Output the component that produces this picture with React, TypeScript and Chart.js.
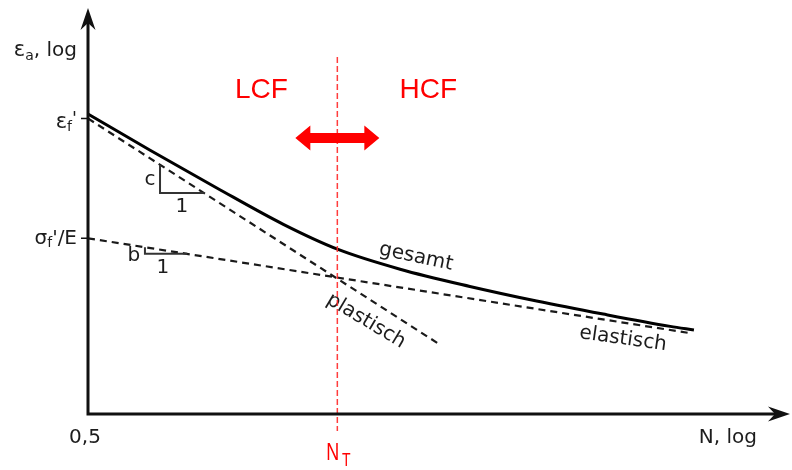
import React, { useEffect, useRef } from "react";
import { Chart, registerables } from "chart.js";

Chart.register(...registerables);

// Total strain amplitude (gesamt) over number of cycles N
const totalN = [0.5, 2.1, 10, 47, 168, 710, 3600, 17000, 80000, 380000, 660000];
const totalStrain = [0.32, 0.147, 0.065, 0.0297, 0.0173, 0.0113, 0.0078, 0.0057, 0.0043, 0.0033, 0.00305];

// Plastic part (Coffin-Manson) – straight line in log-log
const plasticN = [0.5, 1700];
const plasticStrain = [0.29, 0.0023];

// Elastic part (Basquin) – straight line in log-log
const elasticN = [0.5, 600000];
const elasticStrain = [0.022, 0.002855];

// Transition life N_T
const transitionN = 165;

// Axis ranges
const rangeN = [0.5, 5e6];
const rangeStrain = [5e-4, 3];

// Slope triangles (N span along each line)
const cTriangleN = [2.67, 7.4];
const bTriangleN = [1.88, 5.0];

const INK = "#1c1c1c";
const RED = "#ff0000";
const SANS = '"DejaVu Sans", Verdana, sans-serif';
const ARIAL = '"Liberation Sans", Arial, sans-serif';

type Run = { t: string; size: number; dy: number };

function runsWidth(ctx: CanvasRenderingContext2D, runs: Run[]) {
  let w = 0;
  for (const r of runs) {
    ctx.font = `${r.size}px ${SANS}`;
    w += ctx.measureText(r.t).width;
  }
  return w;
}

function drawRuns(ctx: CanvasRenderingContext2D, runs: Run[], right: number, baseline: number) {
  let x = right - runsWidth(ctx, runs);
  ctx.textAlign = "left";
  ctx.textBaseline = "alphabetic";
  for (const r of runs) {
    ctx.font = `${r.size}px ${SANS}`;
    ctx.fillText(r.t, x, baseline + r.dy);
    x += ctx.measureText(r.t).width;
  }
}

function arrowHead(ctx: CanvasRenderingContext2D, tx: number, ty: number, dx: number, dy: number) {
  const len = 22, half = 7.5, notch = 15;
  const px = -dy, py = dx;
  ctx.beginPath();
  ctx.moveTo(tx, ty);
  ctx.lineTo(tx - dx * len + px * half, ty - dy * len + py * half);
  ctx.lineTo(tx - dx * notch, ty - dy * notch);
  ctx.lineTo(tx - dx * len - px * half, ty - dy * len - py * half);
  ctx.closePath();
  ctx.fill();
}

function rotatedText(ctx: CanvasRenderingContext2D, text: string, cx: number, cy: number, deg: number, size = 20) {
  ctx.save();
  ctx.translate(cx, cy);
  ctx.rotate((deg * Math.PI) / 180);
  ctx.font = `${size}px ${SANS}`;
  ctx.textAlign = "center";
  ctx.textBaseline = "middle";
  ctx.fillText(text, 0, 0);
  ctx.restore();
}

const diagramPlugin = {
  id: "strainLifeDiagram",
  afterDraw(chart: any) {
    const ctx: CanvasRenderingContext2D = chart.ctx;
    const xs = chart.scales.x;
    const ys = chart.scales.y;
    const area = chart.chartArea;
    const ox = area.left;
    const oy = area.bottom;

    ctx.save();

    // Slope triangles on plastic and elastic lines
    const lineY = (nA: number, eA: number, nB: number, eB: number, px: number) => {
      const x0 = xs.getPixelForValue(nA), y0 = ys.getPixelForValue(eA);
      const x1 = xs.getPixelForValue(nB), y1 = ys.getPixelForValue(eB);
      return y0 + ((px - x0) / (x1 - x0)) * (y1 - y0);
    };
    ctx.strokeStyle = "#333";
    ctx.lineWidth = 2;
    ctx.setLineDash([]);
    const tri = (span: number[], nA: number, eA: number, nB: number, eB: number) => {
      const xa = xs.getPixelForValue(span[0]);
      const xb = xs.getPixelForValue(span[1]);
      const ya = lineY(nA, eA, nB, eB, xa);
      const yb = lineY(nA, eA, nB, eB, xb);
      ctx.beginPath();
      ctx.moveTo(xa, ya);
      ctx.lineTo(xa, yb);
      ctx.lineTo(xb, yb);
      ctx.stroke();
      return { xa, xb, ya, yb };
    };
    const ct = tri(cTriangleN, plasticN[0], plasticStrain[0], plasticN[1], plasticStrain[1]);
    const bt = tri(bTriangleN, elasticN[0], elasticStrain[0], elasticN[1], elasticStrain[1]);

    ctx.fillStyle = INK;
    ctx.font = `20px ${SANS}`;
    ctx.textAlign = "center";
    ctx.textBaseline = "middle";
    ctx.fillText("c", ct.xa - 10, (ct.ya + ct.yb) / 2 + 1);
    ctx.fillText("1", (ct.xa + ct.xb) / 2, ct.yb + 14);
    ctx.fillText("b", bt.xa - 11, bt.yb + 2);
    ctx.fillText("1", (bt.xa + bt.xb) / 2 - 3, bt.yb + 14);

    // Curve labels
    rotatedText(ctx, "gesamt", 416, 257, 12);
    rotatedText(ctx, "plastisch", 366, 321, 31);
    rotatedText(ctx, "elastisch", 623, 339, 8);

    // Transition line N_T
    const xt = xs.getPixelForValue(transitionN);
    ctx.strokeStyle = "rgba(255,40,40,0.9)";
    ctx.lineWidth = 1.5;
    ctx.setLineDash([6, 3]);
    ctx.beginPath();
    ctx.moveTo(xt, 57);
    ctx.lineTo(xt, oy + 17);
    ctx.stroke();
    ctx.setLineDash([]);

    // LCF / HCF labels and double arrow
    ctx.fillStyle = RED;
    ctx.font = `28px ${ARIAL}`;
    ctx.textAlign = "center";
    ctx.textBaseline = "alphabetic";
    ctx.fillText("LCF", xt - 76, 98);
    ctx.fillText("HCF", xt + 91, 98);

    const ay = 138, halfLen = 42, shaft = 5, head = 12.5, headLen = 15;
    ctx.beginPath();
    ctx.moveTo(xt - halfLen, ay);
    ctx.lineTo(xt - halfLen + headLen, ay - head);
    ctx.lineTo(xt - halfLen + headLen, ay - shaft);
    ctx.lineTo(xt + halfLen - headLen, ay - shaft);
    ctx.lineTo(xt + halfLen - headLen, ay - head);
    ctx.lineTo(xt + halfLen, ay);
    ctx.lineTo(xt + halfLen - headLen, ay + head);
    ctx.lineTo(xt + halfLen - headLen, ay + shaft);
    ctx.lineTo(xt - halfLen + headLen, ay + shaft);
    ctx.lineTo(xt - halfLen + headLen, ay + head);
    ctx.closePath();
    ctx.fill();

    // N_T label (narrow red lettering)
    ctx.save();
    ctx.translate(xt - 11, 460);
    ctx.scale(0.78, 1);
    ctx.font = `23px ${ARIAL}`;
    ctx.textAlign = "left";
    ctx.fillText("N", 0, 0);
    ctx.font = `18px ${ARIAL}`;
    ctx.fillText("T", 20, 6);
    ctx.restore();

    // Axes with arrow heads
    ctx.strokeStyle = "#111";
    ctx.fillStyle = "#111";
    ctx.lineWidth = 3;
    ctx.beginPath();
    ctx.moveTo(ox, 22);
    ctx.lineTo(ox, oy);
    ctx.lineTo(782, oy);
    ctx.stroke();
    arrowHead(ctx, ox, 8, 0, -1);
    arrowHead(ctx, 790, oy, 1, 0);

    // Y-axis marks
    ctx.lineWidth = 1.5;
    const yEf = ys.getPixelForValue(plasticStrain[0]);
    const ySf = ys.getPixelForValue(elasticStrain[0]);
    ctx.beginPath();
    ctx.moveTo(ox - 7, yEf);
    ctx.lineTo(ox, yEf);
    ctx.moveTo(ox - 7, ySf);
    ctx.lineTo(ox, ySf);
    ctx.stroke();

    // Axis labels
    ctx.fillStyle = INK;
    drawRuns(ctx, [
      { t: "ε", size: 21, dy: 0 },
      { t: "a", size: 14, dy: 4 },
      { t: ", log", size: 20, dy: 0 },
    ], 77, 56);
    drawRuns(ctx, [
      { t: "ε", size: 21, dy: 0 },
      { t: "f", size: 14, dy: 3 },
      { t: "'", size: 18, dy: -4 },
    ], 77, yEf + 9);
    drawRuns(ctx, [
      { t: "σ", size: 20, dy: 0 },
      { t: "f", size: 14, dy: 3 },
      { t: "'/E", size: 20, dy: 0 },
    ], 77, ySf + 6);

    ctx.font = `20px ${SANS}`;
    ctx.textAlign = "center";
    ctx.textBaseline = "alphabetic";
    ctx.fillText("0,5", 85, 443);
    ctx.textAlign = "right";
    ctx.fillText("N, log", 757, 443);

    ctx.restore();
  },
};

export default function App() {
  const canvasRef = useRef<HTMLCanvasElement | null>(null);

  useEffect(() => {
    const canvas = canvasRef.current;
    if (!canvas) return;
    const pts = (ns: number[], es: number[]) => ns.map((n, i) => ({ x: n, y: es[i] }));
    const chart = new Chart(canvas, {
      type: "line",
      data: {
        datasets: [
          {
            label: "gesamt",
            data: pts(totalN, totalStrain),
            borderColor: "#000",
            borderWidth: 3,
            pointRadius: 0,
            cubicInterpolationMode: "monotone",
            fill: false,
          },
          {
            label: "plastisch",
            data: pts(plasticN, plasticStrain),
            borderColor: "#1a1a1a",
            borderWidth: 2.2,
            borderDash: [7, 5],
            pointRadius: 0,
            fill: false,
          },
          {
            label: "elastisch",
            data: pts(elasticN, elasticStrain),
            borderColor: "#1a1a1a",
            borderWidth: 2.2,
            borderDash: [7, 5],
            pointRadius: 0,
            fill: false,
          },
        ],
      },
      options: {
        responsive: false,
        animation: false,
        devicePixelRatio: 1,
        events: [],
        layout: { padding: { left: 88, right: 11, top: 10, bottom: 56 } },
        scales: {
          x: { type: "logarithmic", min: rangeN[0], max: rangeN[1], display: false },
          y: { type: "logarithmic", min: rangeStrain[0], max: rangeStrain[1], display: false },
        },
        plugins: {
          legend: { display: false },
          tooltip: { enabled: false },
        },
      },
      plugins: [diagramPlugin],
    } as any);
    return () => chart.destroy();
  }, []);

  return (
    <div style={{ position: "fixed", left: 0, top: 0, width: 792, height: 470, background: "#fff" }}>
      <canvas ref={canvasRef} width={792} height={470} style={{ display: "block" }} />
    </div>
  );
}
